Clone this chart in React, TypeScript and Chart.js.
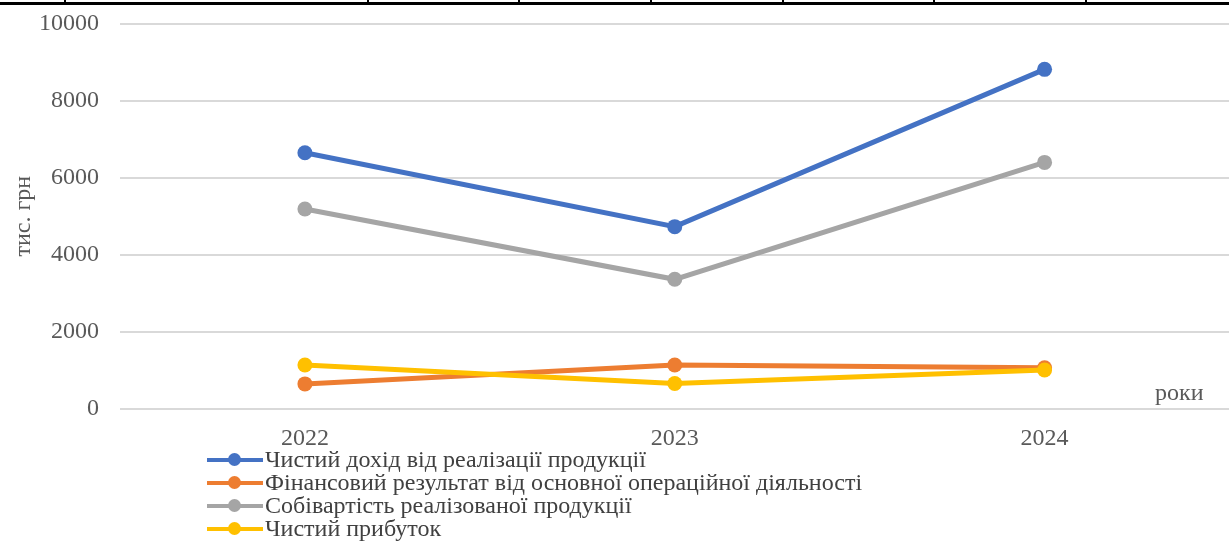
import React, { useEffect, useRef } from "react";
import { Chart, registerables } from "chart.js";

Chart.register(...registerables);

// ---- data ----
const categories = ["2022", "2023", "2024"];
const netRevenue = [6650, 4730, 8820];
const operatingResult = [640, 1130, 1060];
const costOfSales = [5190, 3360, 6400];
const netProfit = [1130, 650, 1000];
const yTicks = [0, 2000, 4000, 6000, 8000, 10000];
const seriesNames = [
  "Чистий дохід від реалізації продукції",
  "Фінансовий результат від основної операційної діяльності",
  "Собівартість реалізованої продукції",
  "Чистий прибуток",
];
const seriesColors = ["#4472C4", "#ED7D31", "#A5A5A5", "#FFC000"];
const yTitle = "тис. грн";
const xTitle = "роки";
const topTickXs = [64, 367, 518, 650, 782, 933, 1085];

const FONT = '"Liberation Serif", "Times New Roman", serif';
const W = 1229;
const H = 541;
const CW = W + 8;

const xTitlePlugin = {
  id: "xTitleRight",
  afterDraw(chart: any) {
    const ctx = chart.ctx;
    const area = chart.chartArea;
    ctx.save();
    ctx.font = `24px ${FONT}`;
    ctx.fillStyle = "#595959";
    ctx.textAlign = "right";
    ctx.textBaseline = "alphabetic";
    ctx.fillText(xTitle, area.right - 26, area.bottom - 8.5);
    ctx.restore();
  },
};

const zeroPad = (s: any) => {
  s.paddingLeft = 0;
  s.paddingRight = 0;
  s.paddingTop = 0;
  s.paddingBottom = 0;
};

export default function App() {
  const ref = useRef<HTMLCanvasElement | null>(null);

  useEffect(() => {
    document.body.style.margin = "0";
    const canvas = ref.current;
    if (!canvas) return;
    const seriesValues = [netRevenue, operatingResult, costOfSales, netProfit];
    const chart = new Chart(canvas, {
      type: "line",
      data: {
        labels: categories,
        datasets: seriesValues.map((vals, i) => ({
          label: seriesNames[i],
          data: vals,
          borderColor: seriesColors[i],
          backgroundColor: seriesColors[i],
          pointBackgroundColor: seriesColors[i],
          pointBorderColor: seriesColors[i],
          borderWidth: 5,
          pointRadius: 7.5,
          pointBorderWidth: 0,
          tension: 0,
          fill: false,
          order: seriesValues.length - i,
        })),
      },
      options: {
        responsive: false,
        animation: false,
        layout: { padding: { top: 24, left: 0, right: 0, bottom: 0 } },
        plugins: {
          legend: { display: false },
          tooltip: { enabled: false },
        },
        scales: {
          x: {
            type: "category",
            offset: true,
            grid: { display: false, drawTicks: false },
            border: { display: false },
            ticks: {
              font: { family: FONT, size: 24 },
              color: "#595959",
              padding: 16,
            },
            afterFit: (s: any) => {
              s.height = H - 408.5;
              zeroPad(s);
            },
          },
          y: {
            min: 0,
            max: 10000,
            afterBuildTicks: (s: any) => {
              s.ticks = yTicks.map((v) => ({ value: v }));
            },
            grid: { color: "#d9d9d9", lineWidth: 2, drawTicks: false },
            border: { display: false },
            ticks: {
              font: { family: FONT, size: 24 },
              color: "#595959",
              padding: 21,
              callback: (v: any) => String(v),
            },
            title: {
              display: true,
              text: yTitle,
              font: { family: FONT, size: 24 },
              color: "#595959",
              padding: { top: 9, bottom: 0 },
            },
            afterFit: (s: any) => {
              s.width = 120;
              zeroPad(s);
            },
          },
        },
      },
      plugins: [xTitlePlugin],
    });
    return () => chart.destroy();
  }, []);

  return (
    <div style={{ position: "absolute", left: 0, top: 0, width: W, height: H, background: "#fff", overflow: "hidden" }}>
      <canvas ref={ref} width={CW} height={H} style={{ display: "block", width: CW, height: H }} />
      <div style={{ position: "absolute", left: 0, top: 2, width: W, height: 3, background: "#000" }} />
      {topTickXs.map((x) => (
        <div key={x} style={{ position: "absolute", left: x, top: 0, width: 2, height: 3, background: "#000" }} />
      ))}
      <div style={{ position: "absolute", left: 207, top: 448, fontFamily: FONT, fontSize: 24, color: "#404040" }}>
        {seriesNames.map((name, i) => (
          <div key={name} style={{ display: "flex", alignItems: "center", height: 23, whiteSpace: "nowrap" }}>
            <span style={{ position: "relative", display: "inline-block", width: 56, height: 14, marginRight: 2, flex: "none" }}>
              <span style={{ position: "absolute", left: 0, top: 5, width: 56, height: 4, background: seriesColors[i] }} />
              <span style={{ position: "absolute", left: 21, top: 0.5, width: 13, height: 13, borderRadius: 7, background: seriesColors[i] }} />
            </span>
            <span style={{ lineHeight: "23px" }}>{name}</span>
          </div>
        ))}
      </div>
    </div>
  );
}
